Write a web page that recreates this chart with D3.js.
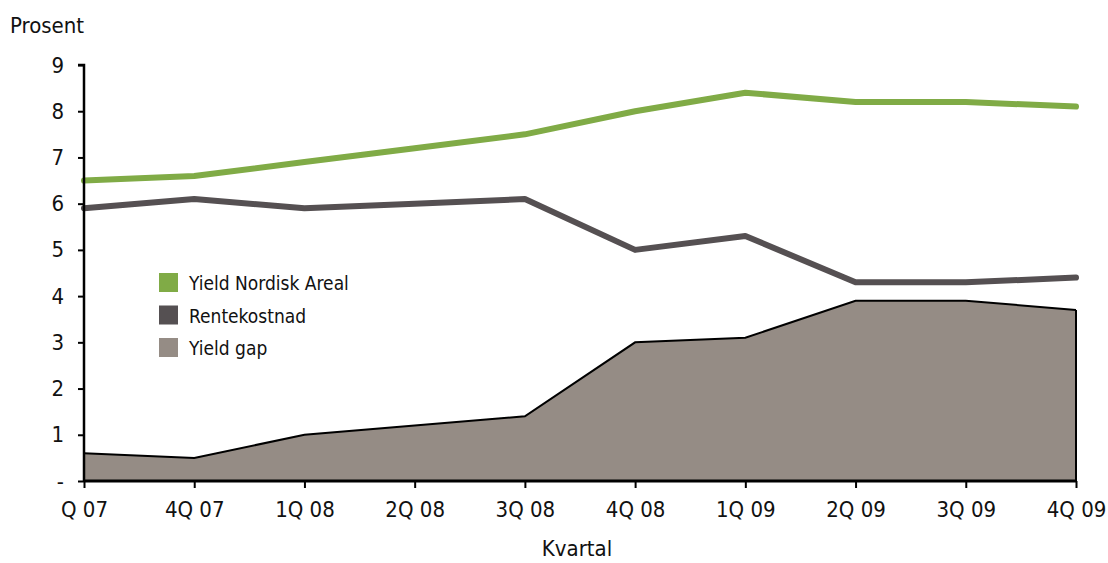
<!DOCTYPE html>
<html>
<head>
<meta charset="utf-8">
<script src="https://cdn.jsdelivr.net/npm/d3@7"></script>
<style>
  html, body { margin: 0; padding: 0; background: #fff; }
  svg { display: block; }
  text { font-family: "Liberation Sans Narrow", "DejaVu Sans Condensed", "Roboto Condensed", sans-serif; fill: #111; }
</style>
</head>
<body>
<svg id="chart" width="1108" height="563"></svg>
<script>
// Quarters on the x axis
const quarters = ["Q 07", "4Q 07", "1Q 08", "2Q 08", "3Q 08", "4Q 08", "1Q 09", "2Q 09", "3Q 09", "4Q 09"];
// Yield on the property portfolio (%)
const yieldNordisk = [6.5, 6.6, 6.9, 7.2, 7.5, 8.0, 8.4, 8.2, 8.2, 8.1];
// Interest cost (%)
const rentekostnad = [5.9, 6.1, 5.9, 6.0, 6.1, 5.0, 5.3, 4.3, 4.3, 4.4];
// Yield gap (%)
const yieldGap = [0.6, 0.5, 1.0, 1.2, 1.4, 3.0, 3.1, 3.9, 3.9, 3.7];
// Y axis ticks
const yTicks = [0, 1, 2, 3, 4, 5, 6, 7, 8, 9];

const colors = { yield: "#80ab46", rente: "#555052", gap: "#958c85" };

const svg = d3.select("#chart");
const plotLeft = 84, plotRight = 1076, plotTop = 65, plotBottom = 481;

const x = d3.scalePoint().domain(quarters).range([plotLeft, plotRight]);
const y = d3.scaleLinear().domain([0, 9]).range([plotBottom, plotTop]);

// Yield gap area
const area = d3.area()
  .x((d, i) => x(quarters[i]))
  .y0(y(0))
  .y1(d => y(d));
svg.append("path")
  .datum(yieldGap)
  .attr("d", area)
  .attr("fill", colors.gap);
const gapOutline = d3.line().x((d, i) => x(quarters[i])).y(d => y(d));
svg.append("path")
  .datum(yieldGap)
  .attr("d", gapOutline)
  .attr("fill", "none")
  .attr("stroke", "#000")
  .attr("stroke-width", 2);
// right edge of the area
svg.append("line")
  .attr("x1", x(quarters[quarters.length - 1]))
  .attr("x2", x(quarters[quarters.length - 1]))
  .attr("y1", y(yieldGap[yieldGap.length - 1]))
  .attr("y2", y(0))
  .attr("stroke", "#000").attr("stroke-width", 2);

// Lines
const line = d3.line().x((d, i) => x(quarters[i])).y(d => y(d));
[[rentekostnad, colors.rente], [yieldNordisk, colors.yield]].forEach(([data, c]) => {
  svg.append("path")
    .datum(data)
    .attr("d", line)
    .attr("fill", "none")
    .attr("stroke", c)
    .attr("stroke-width", 6)
    .attr("stroke-linecap", "round")
    .attr("stroke-linejoin", "round");
});

// Y axis
const yAxis = d3.axisLeft(y)
  .tickValues(yTicks)
  .tickSize(6)
  .tickPadding(8)
  .tickFormat(d => d === 0 ? "-" : d);
const gy = svg.append("g").attr("transform", `translate(${plotLeft},0)`).call(yAxis);
gy.select(".domain").attr("stroke", "#000").attr("stroke-width", 2.5).attr("d", `M-6,${plotTop}H0V${plotBottom}`);
gy.selectAll(".tick line").attr("stroke", "#000").attr("stroke-width", 2);
gy.selectAll(".tick text")
  .style("font-family", '"Liberation Sans Narrow", "DejaVu Sans Condensed", sans-serif')
  .attr("font-size", 22).attr("fill", "#111").attr("dx", -6);

// X axis
const xAxis = d3.axisBottom(x).tickSize(7).tickPadding(13);
const gx = svg.append("g").attr("transform", `translate(0,${plotBottom})`).call(xAxis);
gx.select(".domain").attr("stroke", "#000").attr("stroke-width", 3).attr("d", `M${plotLeft},0H${plotRight}`);
gx.selectAll(".tick line").attr("stroke", "#000").attr("stroke-width", 2);
gx.selectAll(".tick text")
  .style("font-family", '"Liberation Sans Narrow", "DejaVu Sans Condensed", sans-serif')
  .attr("font-size", 22).attr("fill", "#111");

// Axis titles
svg.append("text").attr("x", 10).attr("y", 33).attr("font-size", 22).text("Prosent");
svg.append("text").attr("x", 577).attr("y", 556).attr("text-anchor", "middle").attr("font-size", 22).text("Kvartal");

// Legend
const legendItems = [
  ["Yield Nordisk Areal", colors.yield],
  ["Rentekostnad", colors.rente],
  ["Yield gap", colors.gap]
];
const lg = svg.append("g").attr("transform", "translate(159,273)");
legendItems.forEach(([label, c], i) => {
  const g = lg.append("g").attr("transform", `translate(0,${i * 32.5})`);
  g.append("rect").attr("width", 19).attr("height", 19).attr("fill", c);
  g.append("text").attr("x", 30).attr("y", 17).attr("font-size", 19).text(label);
});
</script>
</body>
</html>
